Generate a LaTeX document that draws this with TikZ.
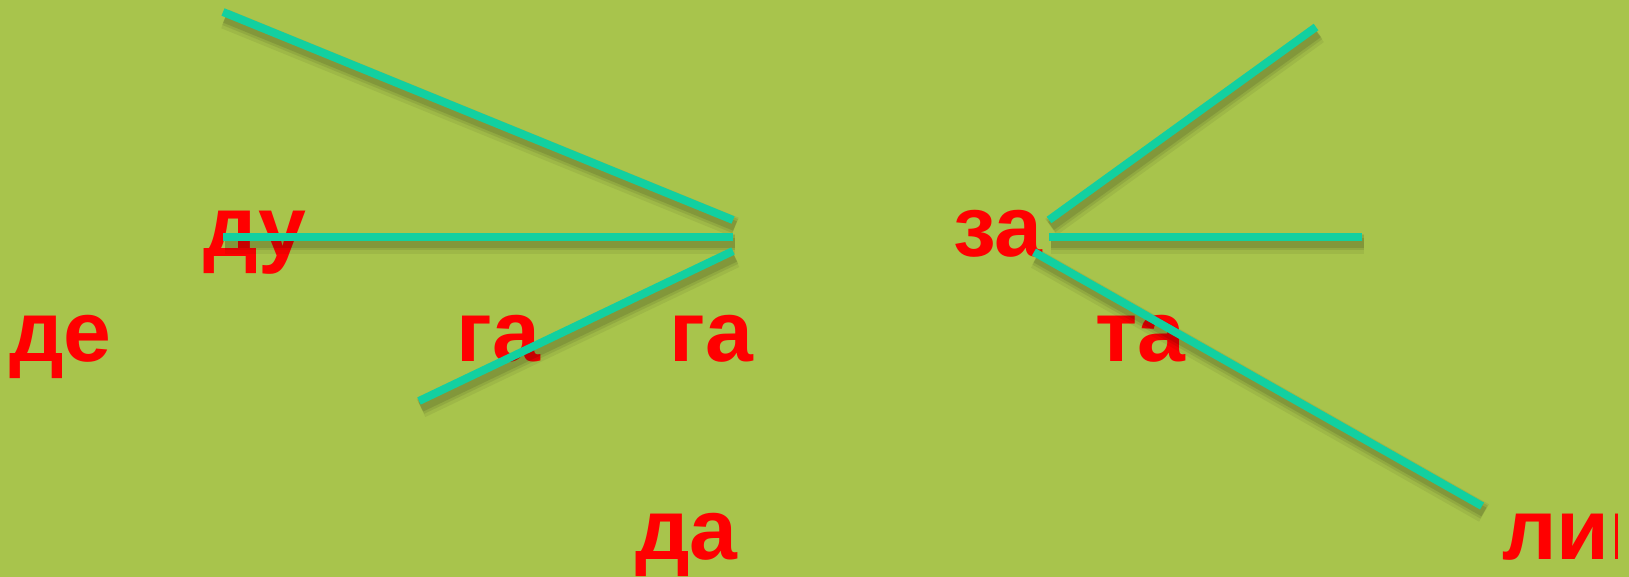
\documentclass[tikz,border=0pt]{standalone}
\usepackage{fontspec}
\setmainfont{Liberation Sans}
\definecolor{bg}{RGB}{168,196,76}
\definecolor{tealline}{RGB}{18,208,160}
\definecolor{wordred}{RGB}{255,0,0}
\begin{document}
\begin{tikzpicture}[x=1pt,y=-1pt,
  word/.style={anchor=base west, inner sep=0pt, text=wordred, font=\fontsize{86}{96}\selectfont\bfseries},
  stroke/.style={draw=tealline, line width=8pt, line cap=butt,
    preaction={draw=black, draw opacity=0.06, line width=20pt, transform canvas={shift={(2pt,-7pt)}}},
    preaction={draw=black, draw opacity=0.08, line width=15pt, transform canvas={shift={(2pt,-6pt)}}},
    preaction={draw=black, draw opacity=0.10, line width=10pt, transform canvas={shift={(2pt,-6pt)}}}}]
\fill[bg] (0,0) rectangle (1629,577);
\useasboundingbox (0,0) rectangle (1629,577);
% words
\node[word] (du) at (203,257) {ду};
\node[word] (de) at (9,361) {де};
\node[word] (ga1) at (456,361) {га};
\node[word] (ga2) at (669,361) {га};
\node[word] (za) at (953,257) {за};
\node[word] (ta) at (1095,361) {та};
\node[word] (da) at (635,559) {да};
\begin{scope}
  \clip (0,0) rectangle (1617,577);
  \node[word] (li) at (1502,559) {лип};
\end{scope}
% line end points
\coordinate (p1) at (223,12);
\coordinate (q1) at (733,220);
\coordinate (p2) at (223,237);
\coordinate (q2) at (733,237);
\coordinate (p3) at (419,401);
\coordinate (q3) at (733,251);
\coordinate (p4) at (1049,220);
\coordinate (q4) at (1316,27);
\coordinate (p5) at (1049,237);
\coordinate (q5) at (1362,237);
\coordinate (p6) at (1034,252);
\coordinate (q6) at (1482,506);
% lines
\draw[stroke] (p1) -- (q1);
\draw[stroke] (p2) -- (q2);
\draw[stroke] (p3) -- (q3);
\draw[stroke] (p4) -- (q4);
\draw[stroke] (p5) -- (q5);
\draw[stroke] (p6) -- (q6);
\end{tikzpicture}
\end{document}
